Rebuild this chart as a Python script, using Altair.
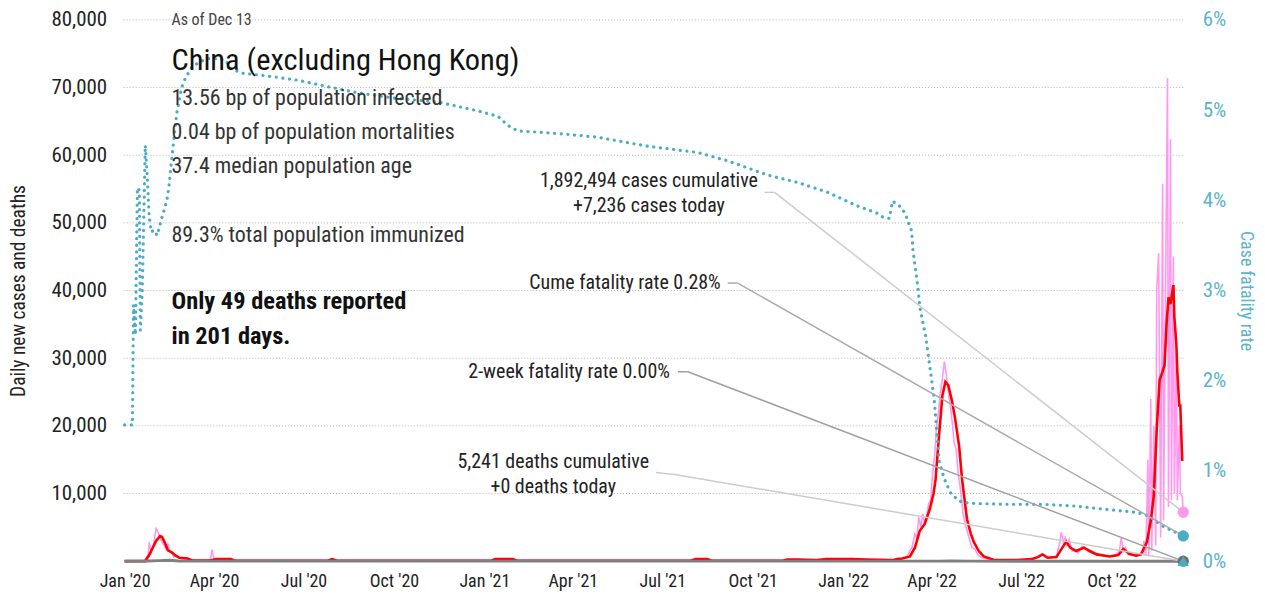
import altair as alt
import pandas as pd

FONT = "Liberation Sans Narrow, Roboto Condensed, DejaVu Sans Condensed, sans-serif"

# ---------------- data ----------------
case_dates = [
    "2020-01-01", "2020-01-20", "2020-01-23", "2020-01-25", "2020-01-26", "2020-01-28",
    "2020-01-30", "2020-02-02", "2020-02-04", "2020-02-06", "2020-02-08", "2020-02-10",
    "2020-02-12", "2020-02-14", "2020-02-16", "2020-02-18", "2020-02-20", "2020-02-22",
    "2020-02-25", "2020-03-01", "2020-03-08", "2020-03-28", "2020-03-30", "2020-04-01",
    "2020-04-15", "2020-04-25", "2020-07-28", "2020-07-31", "2020-08-03", "2021-01-08",
    "2021-01-12", "2021-01-28", "2021-02-02", "2021-07-30", "2021-08-05", "2021-08-15",
    "2021-11-01", "2021-11-06", "2021-12-05", "2021-12-20", "2022-01-10", "2022-01-25",
    "2022-02-20", "2022-03-01", "2022-03-06", "2022-03-10", "2022-03-12", "2022-03-15",
    "2022-03-17", "2022-03-19", "2022-03-21", "2022-03-23", "2022-03-25", "2022-03-27",
    "2022-03-29", "2022-03-31", "2022-04-02", "2022-04-04", "2022-04-06", "2022-04-08",
    "2022-04-10", "2022-04-12", "2022-04-14", "2022-04-16", "2022-04-18", "2022-04-20",
    "2022-04-22", "2022-04-24", "2022-04-26", "2022-04-28", "2022-04-30", "2022-05-03",
    "2022-05-06", "2022-05-09", "2022-05-12", "2022-05-15", "2022-05-18", "2022-05-22",
    "2022-06-01", "2022-07-01", "2022-07-10", "2022-07-18", "2022-07-22", "2022-07-26",
    "2022-08-01", "2022-08-06", "2022-08-09", "2022-08-11", "2022-08-13", "2022-08-15",
    "2022-08-17", "2022-08-19", "2022-08-22", "2022-08-25", "2022-08-28", "2022-09-01",
    "2022-09-04", "2022-09-08", "2022-09-14", "2022-09-20", "2022-09-28", "2022-10-05",
    "2022-10-09", "2022-10-11", "2022-10-13", "2022-10-15", "2022-10-18", "2022-10-25",
    "2022-10-31", "2022-11-02", "2022-11-03", "2022-11-05", "2022-11-07", "2022-11-08",
    "2022-11-10", "2022-11-11", "2022-11-13", "2022-11-15", "2022-11-16", "2022-11-18",
    "2022-11-20", "2022-11-22", "2022-11-23", "2022-11-25", "2022-11-27", "2022-11-28",
    "2022-11-30", "2022-12-01", "2022-12-03", "2022-12-04", "2022-12-06", "2022-12-07",
    "2022-12-09", "2022-12-10", "2022-12-12", "2022-12-13",
]
case_daily = [
    0, 0, 500, 900, 2800, 1300,
    2000, 4800, 4300, 3500, 2800, 2400,
    1800, 2500, 1500, 1200, 600, 900,
    400, 300, 150, 150, 1700, 200,
    250, 150, 150, 300, 150, 150,
    300, 200, 150, 150, 300, 150,
    150, 250, 150, 250, 300, 200,
    150, 300, 500, 1500, 2000, 4000,
    3500, 6500, 5000, 7000, 5500, 6800,
    8500, 9000, 13000, 15500, 20000, 22000,
    25000, 27000, 29500, 27500, 25000, 23000,
    20500, 17500, 16500, 13000, 11000, 7000,
    5000, 3500, 2000, 1800, 900, 500,
    150, 150, 300, 700, 1100, 600,
    500, 800, 2500, 4300, 2800, 3500,
    2200, 3200, 1500, 1700, 1200, 2200,
    1800, 1400, 1000, 900, 700, 900,
    1500, 3500, 1500, 2000, 1000, 900,
    1200, 1000, 3000, 800, 15000, 700,
    24000, 1500, 20000, 2300, 40000, 45500,
    3500, 55800, 6000, 40000, 71400, 8000,
    62400, 9000, 45000, 10000, 31000, 9000,
    20000, 10000, 9600, 7236,
]

avg_dates = [
    "2020-01-01", "2020-01-22", "2020-01-26", "2020-01-29", "2020-02-02", "2020-02-06",
    "2020-02-08", "2020-02-11", "2020-02-14", "2020-02-18", "2020-02-22", "2020-02-26",
    "2020-03-05", "2020-03-10", "2020-03-28", "2020-04-03", "2020-04-18", "2020-04-22",
    "2020-07-26", "2020-07-30", "2020-08-04", "2021-01-08", "2021-01-12", "2021-01-30",
    "2021-02-03", "2021-07-30", "2021-08-04", "2021-08-16", "2021-08-20", "2021-11-01",
    "2021-11-05", "2021-11-16", "2021-12-05", "2021-12-15", "2022-01-10", "2022-01-25",
    "2022-02-20", "2022-02-25", "2022-03-02", "2022-03-10", "2022-03-15", "2022-03-20",
    "2022-03-25", "2022-03-30", "2022-04-03", "2022-04-05", "2022-04-09", "2022-04-12",
    "2022-04-15", "2022-04-18", "2022-04-22", "2022-04-25", "2022-04-29", "2022-05-02",
    "2022-05-07", "2022-05-11", "2022-05-14", "2022-05-19", "2022-05-24", "2022-06-03",
    "2022-06-27", "2022-07-12", "2022-07-18", "2022-07-23", "2022-07-28", "2022-08-06",
    "2022-08-12", "2022-08-16", "2022-08-20", "2022-08-26", "2022-09-03", "2022-09-09",
    "2022-09-16", "2022-09-29", "2022-10-08", "2022-10-13", "2022-10-19", "2022-10-26",
    "2022-10-31", "2022-11-06", "2022-11-10", "2022-11-13", "2022-11-16", "2022-11-19",
    "2022-11-22", "2022-11-24", "2022-11-26", "2022-11-28", "2022-11-30", "2022-12-03",
    "2022-12-04", "2022-12-06", "2022-12-07", "2022-12-09", "2022-12-10", "2022-12-12",
]
avg_values = [
    0, 0, 900, 1800, 3000, 3700,
    3600, 2700, 1600, 1300, 800, 500,
    400, 100, 100, 300, 300, 60,
    60, 300, 60, 60, 300, 300,
    60, 60, 300, 300, 60, 60,
    250, 250, 150, 300, 300, 250,
    150, 300, 400, 700, 2000, 4500,
    5500, 7600, 10000, 12000, 19400, 24500,
    26500, 26000, 23500, 21000, 17000, 12100,
    6200, 4000, 2800, 1500, 700, 200,
    150, 300, 600, 1000, 500, 600,
    2000, 2900, 2000, 1500, 2000, 1500,
    1000, 700, 900, 1800, 1100, 800,
    1000, 2800, 6000, 9600, 19400, 26800,
    28000, 29000, 35000, 39000, 38000, 40800,
    36000, 32000, 28000, 23000, 23000, 14800,
]

death_dates = ["2020-01-01", "2020-01-25", "2020-02-05", "2020-02-15", "2020-02-25",
               "2020-03-15", "2022-04-10", "2022-04-20", "2022-05-10", "2022-12-13"]
death_values = [0, 20, 80, 120, 40, 5, 5, 30, 5, 0]

cfr_dates = [
    "2020-01-01", "2020-01-09", "2020-01-10", "2020-01-12", "2020-01-14", "2020-01-16",
    "2020-01-17", "2020-01-19", "2020-01-22", "2020-01-24", "2020-01-26", "2020-01-28",
    "2020-01-31", "2020-02-03", "2020-02-08", "2020-02-13", "2020-02-15", "2020-02-17",
    "2020-02-20", "2020-02-23", "2020-02-28", "2020-03-03", "2020-03-09", "2020-03-14",
    "2020-03-24", "2020-04-03", "2020-04-13", "2020-04-18", "2020-04-29", "2020-05-24",
    "2020-06-26", "2020-07-30", "2020-08-26", "2020-10-03", "2020-11-15", "2020-12-26",
    "2021-01-15", "2021-01-25", "2021-02-04", "2021-03-17", "2021-04-26", "2021-06-16",
    "2021-08-06", "2021-09-05", "2021-10-16", "2021-11-15", "2021-12-16", "2022-01-15",
    "2022-02-04", "2022-02-11", "2022-02-17", "2022-02-19", "2022-02-20", "2022-02-25",
    "2022-03-02", "2022-03-06", "2022-03-08", "2022-03-11", "2022-03-12", "2022-03-13",
    "2022-03-14", "2022-03-16", "2022-03-18", "2022-03-20", "2022-03-23", "2022-03-26",
    "2022-04-01", "2022-04-04", "2022-04-06", "2022-04-09", "2022-04-14", "2022-04-21",
    "2022-05-02", "2022-05-14", "2022-06-19", "2022-07-24", "2022-08-26", "2022-09-29",
    "2022-10-27", "2022-11-08", "2022-11-22", "2022-12-03", "2022-12-13",
]
cfr_values = [
    1.51, 1.51, 2.84, 2.51, 4.14, 4.11,
    2.56, 3.00, 4.61, 4.28, 3.83, 3.65,
    3.67, 3.61, 3.81, 4.00, 4.14, 4.36,
    4.66, 4.96, 5.25, 5.36, 5.47, 5.51,
    5.57, 5.57, 5.55, 5.46, 5.41, 5.38,
    5.33, 5.25, 5.19, 5.13, 5.09, 4.99,
    4.93, 4.83, 4.77, 4.74, 4.70, 4.60,
    4.53, 4.44, 4.28, 4.20, 4.09, 3.94,
    3.86, 3.81, 3.80, 3.91, 3.99, 3.96,
    3.91, 3.83, 3.76, 3.69, 3.61, 3.45,
    3.37, 3.20, 3.04, 2.82, 2.65, 2.49,
    2.01, 1.75, 1.46, 1.09, 0.91, 0.74,
    0.65, 0.64, 0.63, 0.63, 0.61, 0.57,
    0.54, 0.50, 0.39, 0.33, 0.28,
]

last_date = "2022-12-13"
cases_today = 7236
deaths_today = 0
cume_cfr = 0.28
two_week_cfr = 0.00

header_note = "As of Dec 13"
title_text = "China (excluding Hong Kong)"
stats_lines = ["13.56 bp of population infected", "0.04 bp of population mortalities",
               "37.4 median population age"]
immunized_line = "89.3% total population immunized"
note_lines = ["Only 49 deaths reported", "in 201 days."]
cases_label = ["1,892,494 cases cumulative", "+7,236 cases today"]
cume_label = "Cume fatality rate 0.28%"
twoweek_label = "2-week fatality rate 0.00%"
deaths_label = ["5,241 deaths cumulative", "+0 deaths today"]

left_ticks = [10000, 20000, 30000, 40000, 50000, 60000, 70000, 80000]
right_ticks = [0, 0.01, 0.02, 0.03, 0.04, 0.05, 0.06]

# ---------------- styling ----------------
W, H = 1063, 543
PINK, RED, GRAY, TEAL = "#ff99ee", "#ff0000", "#808080", "#4bacc6"
YMAX = 80000
RMAX = 0.06

cases_df = pd.DataFrame({"date": case_dates, "v": case_daily})
avg_df = pd.DataFrame({"date": avg_dates, "v": avg_values})
deaths_df = pd.DataFrame({"date": death_dates, "v": death_values})
cfr_df = pd.DataFrame({"date": cfr_dates, "v": [c / 100 for c in cfr_values]})
grid_df = pd.DataFrame({"g": left_ticks})
left_end = pd.DataFrame({"date": [last_date, last_date], "v": [cases_today, deaths_today],
                         "s": ["cases", "deaths"]})
right_end = pd.DataFrame({"date": [last_date], "v": [cume_cfr / 100]})
right_tri = pd.DataFrame({"date": [last_date], "v": [two_week_cfr / 100]})

xscale = alt.Scale(domain=[alt.DateTime(year=2019, month=12, date=31),
                           alt.DateTime(year=2022, month=12, date=13)])
xaxis = alt.Axis(tickCount={"interval": "month", "step": 3}, format="%b '%y", title=None,
                 grid=False, domain=False, ticks=False, labelPadding=11, labelFontSize=18,
                 labelColor="#222", labelFont=FONT, labelOverlap=False, labelFlush=False)
# the same x axis definition on every layer so that Vega-Lite can merge them
X = alt.X("date:T", scale=xscale, axis=xaxis)

lscale = alt.Scale(domain=[0, YMAX], nice=False)
rscale = alt.Scale(domain=[0, RMAX], nice=False)
laxis = alt.Axis(values=left_ticks, format=",.0f", title="Daily new cases and deaths",
                 grid=False, domain=False, ticks=False, labelPadding=17,
                 labelFontSize=21, labelColor="#222", labelFont=FONT,
                 titleFont=FONT, titleFontSize=19.5, titleFontWeight="normal",
                 titleColor="#222", titlePadding=22)
raxis = alt.Axis(values=right_ticks, format=".0%", orient="right", title="Case fatality rate",
                 grid=False, domain=False, ticks=False, labelPadding=19,
                 labelFontSize=21, labelColor="#5cb3cc", labelFont=FONT,
                 titleFont=FONT, titleFontSize=18, titleFontWeight="normal",
                 titleColor="#5cb3cc", titlePadding=11)

grid = alt.Chart(grid_df).mark_rule(color="#b4b4b4", strokeWidth=1, strokeDash=[1, 2]).encode(
    y=alt.Y("g:Q", scale=lscale, axis=None), x=alt.value(0), x2=alt.value(W))

pink = alt.Chart(cases_df).mark_line(color=PINK, strokeWidth=1.6).encode(
    x=X, y=alt.Y("v:Q", scale=lscale, axis=laxis))
red = alt.Chart(avg_df).mark_line(color=RED, strokeWidth=2.6).encode(
    x=X, y=alt.Y("v:Q", scale=lscale, axis=None))
gray = alt.Chart(deaths_df).mark_line(color=GRAY, strokeWidth=3).encode(
    x=X, y=alt.Y("v:Q", scale=lscale, axis=None))

teal = alt.Chart(cfr_df).mark_line(color=TEAL, strokeWidth=3.2, strokeDash=[0.1, 6.6],
                                   strokeCap="round").encode(
    x=X, y=alt.Y("v:Q", scale=rscale, axis=raxis))


def ypx_left(v):
    return H * (1 - v / YMAX)


def ypx_right(v):
    return H * (1 - v / RMAX)


one = pd.DataFrame({"k": [0]})


def seg(x1, y1, x2, y2, color):
    return alt.Chart(one).mark_rule(color=color, strokeWidth=1.5).encode(
        x=alt.value(x1), y=alt.value(y1), x2=alt.value(x2), y2=alt.value(y2))


leaders = [
    seg(643, 173, 653, 173, "#cccccc"), seg(653, 173, W, ypx_left(cases_today), "#cccccc"),
    seg(606, 264, 616, 264, "#aaaaaa"), seg(616, 264, W, ypx_right(cume_cfr / 100), "#aaaaaa"),
    seg(556, 353, 566, 353, "#a0a0a0"), seg(566, 353, W, ypx_left(deaths_today), "#a0a0a0"),
    seg(534, 454, 553, 456, "#cccccc"), seg(553, 456, W, ypx_left(deaths_today), "#cccccc"),
]

left_pts = alt.Chart(left_end).mark_point(filled=True, size=130, opacity=1).encode(
    x=X, y=alt.Y("v:Q", scale=lscale, axis=None),
    color=alt.Color("s:N", scale=alt.Scale(domain=["cases", "deaths"], range=[PINK, "#707070"]),
                    legend=None))
right_pt = alt.Chart(right_end).mark_point(filled=True, size=130, opacity=1, color=TEAL).encode(
    x=X, y=alt.Y("v:Q", scale=rscale, axis=None))
right_tri_pt = alt.Chart(right_tri).mark_point(filled=True, size=130, opacity=1, color=TEAL,
                                               shape="triangle-up").encode(
    x=X, y=alt.Y("v:Q", scale=rscale, axis=None))


def txt(text, x, y, size, align="left", color="#333", weight="normal", lh=None):
    kw = dict(align=align, baseline="middle", font=FONT, fontSize=size, color=color,
              fontWeight=weight)
    if lh is not None:
        kw["lineHeight"] = lh
    return alt.Chart(one).mark_text(**kw).encode(
        x=alt.value(x), y=alt.value(y), text=alt.value(text))


texts = [
    txt(header_note, 48, 0, 16, color="#444"),
    txt(title_text, 48, 41, 30.5, color="#111"),
    txt(stats_lines, 48, 78, 22, color="#333", lh=34.5),
    txt(immunized_line, 48, 216, 22, color="#333"),
    txt(note_lines, 48, 283, 24.5, color="#111", weight="bold", lh=35),
    txt(cases_label, 527, 162, 20, align="center", color="#222", lh=25),
    txt(cume_label, 599, 264, 20, align="right", color="#222"),
    txt(twoweek_label, 548, 353, 20, align="right", color="#222"),
    txt(deaths_label, 431, 444, 20, align="center", color="#222", lh=25),
]

chart = alt.layer(
    grid, pink, red, gray, teal, *leaders, left_pts, right_pt, right_tri_pt, *texts
).resolve_scale(y="independent").properties(
    width=W, height=H,
    autosize=alt.AutoSizeParams(type="none"),
    padding={"left": 116, "top": 11, "right": 74, "bottom": 30},
    background="white",
).configure_view(strokeWidth=0)

chart.save("out.html", embed_options={"renderer": "svg", "actions": False})
